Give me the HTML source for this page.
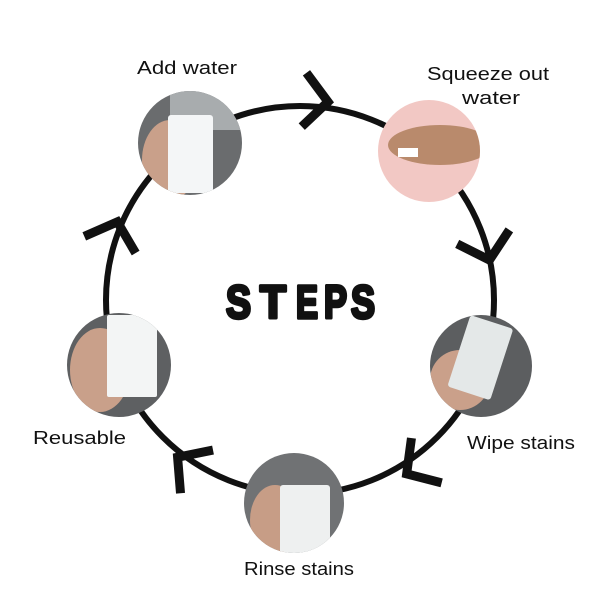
<!DOCTYPE html>
<html><head><meta charset="utf-8"><style>
body{margin:0;background:#fff}
svg{display:block}
text{font-family:"Liberation Sans",sans-serif;fill:#111}
</style></head><body>
<svg width="600" height="600" viewBox="0 0 600 600">
<defs>
<clipPath id="c1"><circle cx="190" cy="143" r="52"/></clipPath>
<clipPath id="c2"><circle cx="429" cy="151" r="51"/></clipPath>
<clipPath id="c3"><circle cx="481" cy="366" r="51"/></clipPath>
<clipPath id="c4"><circle cx="294" cy="503" r="50"/></clipPath>
<clipPath id="c5"><circle cx="119" cy="365" r="52"/></clipPath>
<g id="chev"><polyline points="-26,-27 -2,0 -26,27" fill="none" stroke="#111" stroke-width="9" stroke-linejoin="miter" stroke-miterlimit="10"/></g>
</defs>
<circle cx="300" cy="300" r="194" fill="none" stroke="#111" stroke-width="6"/>
<use href="#chev" transform="translate(330,102) rotate(5)"/>
<use href="#chev" transform="translate(490,262) rotate(75)"/>
<use href="#chev" transform="translate(405,475) rotate(146)"/>
<use href="#chev" transform="translate(176,456) rotate(217)"/>
<use href="#chev" transform="translate(118,220) rotate(-72)"/>

<g clip-path="url(#c1)"><rect x="130" y="85" width="120" height="120" fill="#6a6c6e"/><rect x="170" y="90" width="70" height="40" fill="#a8acae"/><ellipse cx="170" cy="160" rx="28" ry="40" fill="#c9a08a"/><rect x="168" y="115" width="45" height="78" rx="3" fill="#f4f6f7"/></g>
<g clip-path="url(#c2)"><rect x="370" y="95" width="120" height="120" fill="#f2c8c4"/><ellipse cx="440" cy="145" rx="52" ry="20" fill="#b98a6c"/><rect x="398" y="148" width="20" height="9" fill="#fff"/></g>
<g clip-path="url(#c3)"><rect x="425" y="310" width="120" height="120" fill="#5c5e60"/><ellipse cx="460" cy="380" rx="30" ry="30" fill="#caa08a"/><rect x="458" y="320" width="45" height="75" rx="3" fill="#e4e8e8" transform="rotate(18 480 357)"/></g>
<g clip-path="url(#c4)"><rect x="240" y="450" width="110" height="110" fill="#707274"/><ellipse cx="275" cy="520" rx="25" ry="35" fill="#c79d86"/><rect x="280" y="485" width="50" height="70" rx="3" fill="#eef0f0"/></g>
<g clip-path="url(#c5)"><rect x="62" y="310" width="115" height="115" fill="#5e6062"/><ellipse cx="100" cy="370" rx="30" ry="42" fill="#c9a08a"/><rect x="107" y="315" width="50" height="82" rx="2" fill="#f3f5f5"/></g>

<text x="137" y="74" font-size="18" textLength="100" lengthAdjust="spacingAndGlyphs">Add water</text>
<text x="427" y="80" font-size="18" textLength="122" lengthAdjust="spacingAndGlyphs">Squeeze out</text>
<text x="462" y="104" font-size="18" textLength="58" lengthAdjust="spacingAndGlyphs">water</text>
<text x="467" y="449" font-size="18" textLength="108" lengthAdjust="spacingAndGlyphs">Wipe stains</text>
<text x="244" y="575" font-size="18" textLength="110" lengthAdjust="spacingAndGlyphs">Rinse stains</text>
<text x="33" y="444" font-size="18" textLength="93" lengthAdjust="spacingAndGlyphs">Reusable</text>
<g font-size="46" font-weight="bold" stroke="#111" stroke-width="3.5" stroke-linejoin="round">
<text x="226" y="318" textLength="25" lengthAdjust="spacingAndGlyphs">S</text>
<text x="260" y="318" textLength="26" lengthAdjust="spacingAndGlyphs">T</text>
<text x="296" y="318" textLength="22" lengthAdjust="spacingAndGlyphs">E</text>
<text x="324" y="318" textLength="23" lengthAdjust="spacingAndGlyphs">P</text>
<text x="351" y="318" textLength="24" lengthAdjust="spacingAndGlyphs">S</text>
</g>
</svg>
</body></html>
